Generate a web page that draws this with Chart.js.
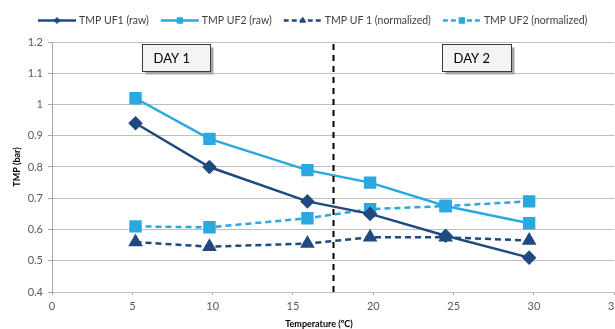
<!DOCTYPE html>
<html>
<head>
<meta charset="utf-8">
<script src="https://cdn.jsdelivr.net/npm/chart.js@4"></script>
<style>
  body { margin: 0; background: #fff; }
  #wrap { width: 615px; height: 329px; }
</style>
</head>
<body>
<div id="wrap"><canvas id="tmpChart" width="615" height="329"></canvas></div>
<script>
// data
var temperature = [5.2, 9.8, 15.9, 19.8, 24.5, 29.7];
var uf1Raw = [0.94, 0.80, 0.69, 0.65, 0.58, 0.51];
var uf2Raw = [1.02, 0.89, 0.79, 0.75, 0.675, 0.62];
var uf1Norm = [0.56, 0.545, 0.555, 0.575, 0.575, 0.565];
var uf2Norm = [0.61, 0.607, 0.636, 0.665, 0.675, 0.69];
var seriesLabels = ['TMP UF1 (raw)', 'TMP UF2 (raw)', 'TMP UF 1 (normalized)', 'TMP UF2 (normalized)'];
var xTicks = [0, 5, 10, 15, 20, 25, 30, 35];
var yTicks = [0.4, 0.5, 0.6, 0.7, 0.8, 0.9, 1, 1.1, 1.2];
var dayLabels = ['DAY 1', 'DAY 2'];
var daySplit = 17.5;

var DARK = '#1F4A80';
var LIGHT = '#2AA8E0';
var FONT = 'Lato, "Open Sans", sans-serif';

function toPoints(ys) {
    return ys.map((y, i) => ({ x: temperature[i], y: y }));
}

// extras: plot area runs to the right edge, legend, day boxes, split line, axis titles
var extrasPlugin = {
    id: 'extras',
    afterLayout: function (chart) {
        // the original plot area is cut off by the right edge of the picture
        var area = chart.chartArea, xs = chart.scales.x;
        area.right = chart.width - 0.7;
        area.width = area.right - area.left;
        xs.right = area.right;
        xs.width = xs.right - xs.left;
        xs.configure();
    },
    afterDatasetsDraw: function (chart) {
        var ctx = chart.ctx;
        var xs = chart.scales.x, ys = chart.scales.y;

        // vertical split line
        ctx.save();
        ctx.strokeStyle = '#000';
        ctx.lineWidth = 2;
        ctx.setLineDash([6, 5]);
        ctx.beginPath();
        var sx = Math.round(xs.getPixelForValue(daySplit)) + 0.5;
        ctx.moveTo(sx, ys.getPixelForValue(1.2) + 2);
        ctx.lineTo(sx, ys.getPixelForValue(0.4) + 5);
        ctx.stroke();
        ctx.restore();

        // day boxes
        var boxes = [[5.6, 9.85], [24.3, 28.55]];
        boxes.forEach(function (b, i) {
            var x0 = Math.round(xs.getPixelForValue(b[0])) + 0.5;
            var x1 = Math.round(xs.getPixelForValue(b[1])) + 0.5;
            var y0 = Math.round(ys.getPixelForValue(1.195)) + 0.5;
            var y1 = Math.round(ys.getPixelForValue(1.106)) + 0.5;
            ctx.save();
            ctx.fillStyle = '#a6a6a6';
            ctx.fillRect(x0 + 3, y0 + 3, x1 - x0, y1 - y0);
            ctx.fillStyle = '#f4f4f4';
            ctx.fillRect(x0, y0, x1 - x0, y1 - y0);
            ctx.strokeStyle = '#3a3a3a';
            ctx.lineWidth = 1;
            ctx.strokeRect(x0, y0, x1 - x0, y1 - y0);
            ctx.fillStyle = '#000';
            ctx.font = '13px ' + FONT;
            ctx.textBaseline = 'middle';
            ctx.textAlign = 'left';
            ctx.fillText(dayLabels[i], x0 + 11, (y0 + y1) / 2 + 1);
            ctx.restore();
        });
    },
    afterDraw: function (chart) {
        var ctx = chart.ctx;
        // legend
        var x = 38, y = 20.5;
        ctx.save();
        ctx.font = '10.5px ' + FONT;
        ctx.textBaseline = 'middle';
        chart.data.datasets.forEach(function (ds) {
            ctx.save();
            ctx.strokeStyle = ds.borderColor;
            ctx.lineWidth = 2.5;
            ctx.setLineDash(ds.borderDash ? [5, 3] : []);
            ctx.beginPath();
            ctx.moveTo(x, y);
            ctx.lineTo(x + 38, y);
            ctx.stroke();
            ctx.restore();
            ctx.save();
            ctx.fillStyle = ds.borderColor;
            ctx.strokeStyle = ds.borderColor;
            ctx.lineWidth = 1;
            Chart.helpers.drawPoint(ctx, { pointStyle: ds.pointStyle, radius: ds.pointRadius * 0.55, borderWidth: 1 }, x + 19, y);
            ctx.restore();
            ctx.fillStyle = '#404040';
            ctx.textAlign = 'left';
            ctx.fillText(ds.label, x + 41, y);
            x += 41 + ctx.measureText(ds.label).width + 12;
        });
        ctx.restore();

        // axis titles
        ctx.save();
        ctx.fillStyle = '#000';
        ctx.font = 'bold 9px ' + FONT;
        ctx.textAlign = 'center';
        ctx.textBaseline = 'middle';
        ctx.fillText('Temperature (ºC)', 319, 324);
        ctx.translate(17, (chart.chartArea.top + chart.chartArea.bottom) / 2);
        ctx.rotate(-Math.PI / 2);
        ctx.fillText('TMP (bar)', 0, 0);
        ctx.restore();
    }
};

var ctx = document.getElementById('tmpChart').getContext('2d');
new Chart(ctx, {
    type: 'line',
    data: {
        datasets: [{
            label: seriesLabels[0],
            data: toPoints(uf1Raw),
            borderColor: DARK,
            backgroundColor: DARK,
            borderWidth: 2.5,
            pointStyle: 'rectRot',
            pointRadius: 5.5
        }, {
            label: seriesLabels[1],
            data: toPoints(uf2Raw),
            borderColor: LIGHT,
            backgroundColor: LIGHT,
            borderWidth: 2.5,
            pointStyle: 'rect',
            pointRadius: 7
        }, {
            label: seriesLabels[2],
            data: toPoints(uf1Norm),
            borderColor: DARK,
            backgroundColor: DARK,
            borderWidth: 2.5,
            borderDash: [6, 4],
            pointStyle: 'triangle',
            pointRadius: 6
        }, {
            label: seriesLabels[3],
            data: toPoints(uf2Norm),
            borderColor: LIGHT,
            backgroundColor: LIGHT,
            borderWidth: 2.5,
            borderDash: [6, 4],
            pointStyle: 'rect',
            pointRadius: 7
        }]
    },
    options: {
        responsive: false,
        animation: false,
        layout: { padding: { top: 42, right: 0, left: 0, bottom: 0 } },
        elements: {
            line: { tension: 0, fill: false },
            point: { borderWidth: 1, hoverRadius: 6 }
        },
        plugins: {
            legend: { display: false },
            tooltip: { enabled: false }
        },
        scales: {
            x: {
                type: 'linear',
                min: xTicks[0],
                max: xTicks[xTicks.length - 1],
                afterBuildTicks: function (s) { s.ticks = xTicks.map(v => ({ value: v })); },
                afterFit: function (s) { s.height = 37; s.paddingLeft = 0; s.paddingRight = 0; },
                grid: { drawOnChartArea: false, tickLength: 3, color: '#bfbfbf', tickColor: '#a6a6a6' },
                border: { color: '#bfbfbf', width: 1 },
                ticks: { color: '#595959', font: { family: FONT, size: 11 }, padding: 5, maxRotation: 0, autoSkip: false }
            },
            y: {
                min: yTicks[0],
                max: yTicks[yTicks.length - 1],
                afterBuildTicks: function (s) { s.ticks = yTicks.map(v => ({ value: v })); },
                afterFit: function (s) { s.width = 52; s.paddingTop = 0; s.paddingBottom = 0; },
                grid: { color: '#bfbfbf', lineWidth: 1, tickLength: 4, tickColor: '#a6a6a6' },
                border: { color: '#a6a6a6', width: 1 },
                ticks: {
                    color: '#595959',
                    font: { family: FONT, size: 11 },
                    padding: 5,
                    callback: function (v) { return String(+v.toFixed(1)); }
                }
            }
        }
    },
    plugins: [extrasPlugin]
});
</script>
</body>
</html>
